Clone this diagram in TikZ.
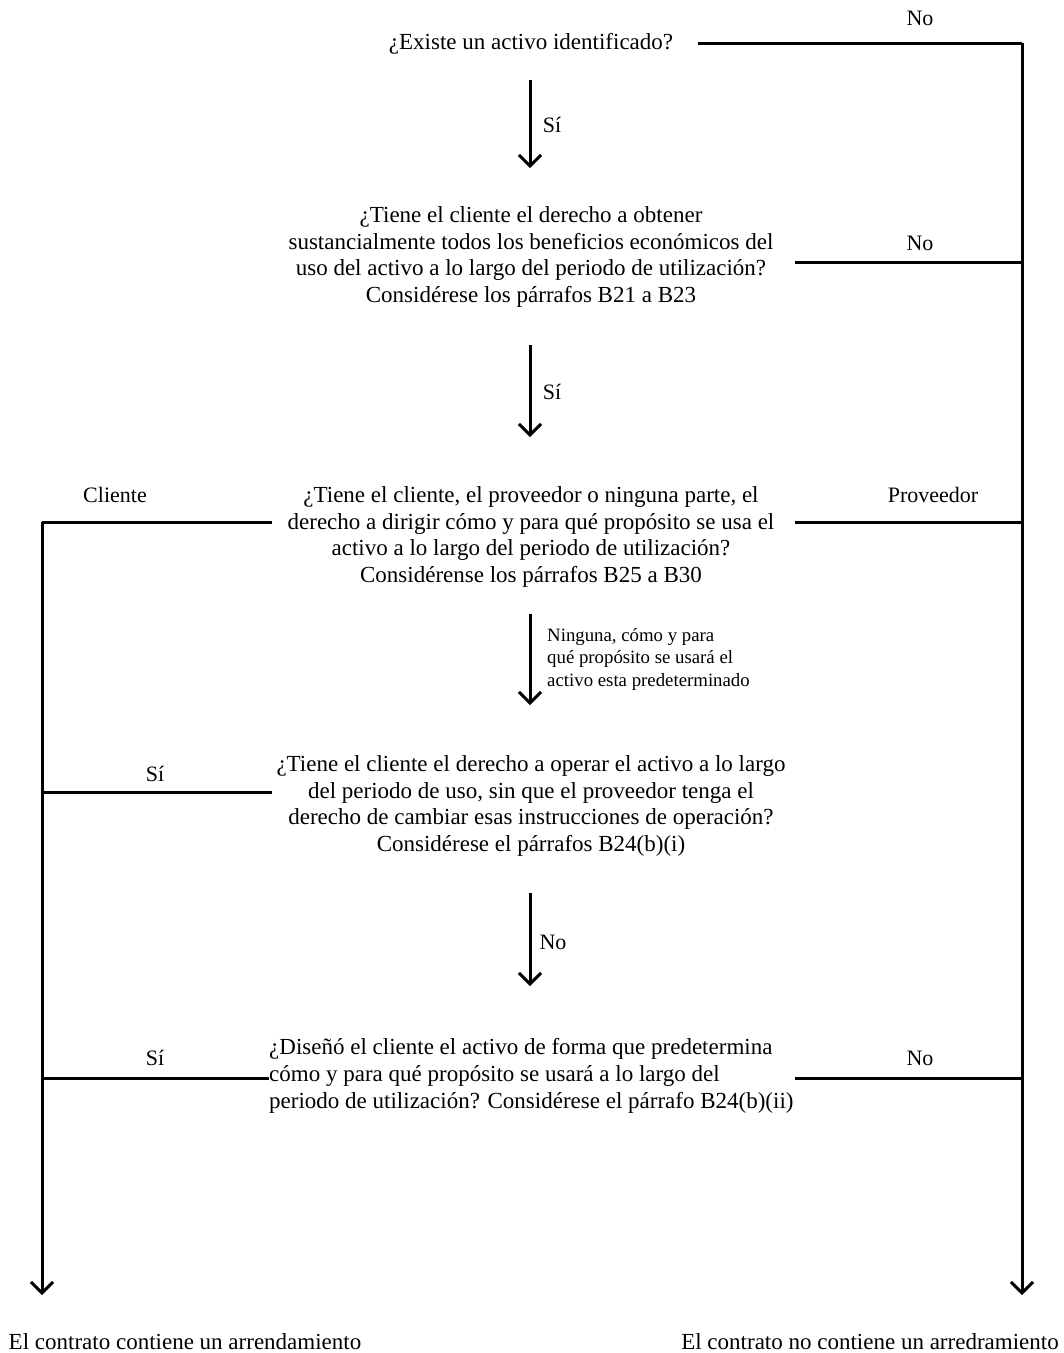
\documentclass[tikz,border=0pt]{standalone}
\usepackage{fontspec}
\setmainfont{Liberation Serif}
\usetikzlibrary{arrows.meta}
\begin{document}
\begin{tikzpicture}[x=1pt,y=-1pt,
  txt/.style={font=\fontsize{23}{26.8}\selectfont, inner sep=0pt, align=center},
  lbl/.style={font=\fontsize{22}{26}\selectfont, inner sep=0pt},
  small/.style={font=\fontsize{18.8}{22.5}\selectfont, inner sep=0pt, align=left, anchor=west},
  ln/.style={line width=3pt},
  arr/.style={line width=3pt, -{Straight Barb[length=11pt,width=22pt,line width=3pt]}}]
\useasboundingbox (0,0) rectangle (1064,1353);
% questions
\node[txt] (q1) at (531,44) {¿Existe un activo identificado?};
\node[txt] (q2) at (531,257) {¿Tiene el cliente el derecho a obtener\\sustancialmente todos los beneficios económicos del\\uso del activo a lo largo del periodo de utilización?\\Considérese los párrafos B21 a B23};
\node[txt] (q3) at (531,537) {¿Tiene el cliente, el proveedor o ninguna parte, el\\derecho a dirigir cómo y para qué propósito se usa el\\activo a lo largo del periodo de utilización?\\Considérense los párrafos B25 a B30};
\node[txt] (q4) at (531,806) {¿Tiene el cliente el derecho a operar el activo a lo largo\\del periodo de uso, sin que el proveedor tenga el\\derecho de cambiar esas instrucciones de operación?\\Considérese el párrafos B24(b)(i)};
\node[txt, align=left, anchor=west] (q5) at (269,1076) {¿Diseñó el cliente el activo de forma que predetermina\\cómo y para qué propósito se usará a lo largo del\\periodo de utilización? Considérese el párrafo B24(b)(ii)};
% results
\node[txt] (res1) at (185,1342) {El contrato contiene un arrendamiento};
\node[txt] (res2) at (870,1342) {El contrato no contiene un arredramiento};
% labels
\node[lbl] (lNo1) at (920,18) {No};
\node[lbl] (lSi1) at (552,125) {Sí};
\node[lbl] (lNo2) at (920,243) {No};
\node[lbl] (lSi2) at (552,392) {Sí};
\node[lbl] (lCli) at (115,495) {Cliente};
\node[lbl] (lProv) at (933,495) {Proveedor};
\node[small] (lNin) at (547,659) {Ninguna, cómo y para\\qué propósito se usará el\\activo esta predeterminado};
\node[lbl] (lSi4) at (155,774) {Sí};
\node[lbl] (lNo4) at (553,942) {No};
\node[lbl] (lSi5) at (155,1058) {Sí};
\node[lbl] (lNo5) at (920,1058) {No};
% coordinates
\coordinate (r1) at (1022,43);
\coordinate (q1e) at (698,43);
\coordinate (q2e) at (795,262);
\coordinate (r2) at (1022,262);
\coordinate (q3e) at (795,522);
\coordinate (r3) at (1022,522);
\coordinate (q5e) at (795,1078);
\coordinate (r5) at (1022,1078);
\coordinate (rEnd) at (1022,1295);
\coordinate (q3w) at (272,522);
\coordinate (l3) at (42,522);
\coordinate (q4w) at (272,792);
\coordinate (l4) at (42,792);
\coordinate (q5w) at (q5.west |- 0,1078);
\coordinate (l5) at (42,1078);
\coordinate (lEnd) at (42,1295);
\coordinate (a1s) at (530,80);  \coordinate (a1e) at (530,168);
\coordinate (a2s) at (530,345); \coordinate (a2e) at (530,437);
\coordinate (a3s) at (530,614); \coordinate (a3e) at (530,705);
\coordinate (a4s) at (530,893); \coordinate (a4e) at (530,986);
% connectors
\draw[ln] (q1e) -- (r1);
\draw[arr] (r1) -- (rEnd);
\draw[ln] (q2e) -- (r2);
\draw[ln] (q3e) -- (r3);
\draw[ln] (q5e) -- (r5);
\draw[ln] (q3w) -- (l3);
\draw[arr] (l3) -- (lEnd);
\draw[ln] (q4w) -- (l4);
\draw[ln] (q5w) -- (l5);
\draw[arr] (a1s) -- (a1e);
\draw[arr] (a2s) -- (a2e);
\draw[arr] (a3s) -- (a3e);
\draw[arr] (a4s) -- (a4e);
\end{tikzpicture}
\end{document}
